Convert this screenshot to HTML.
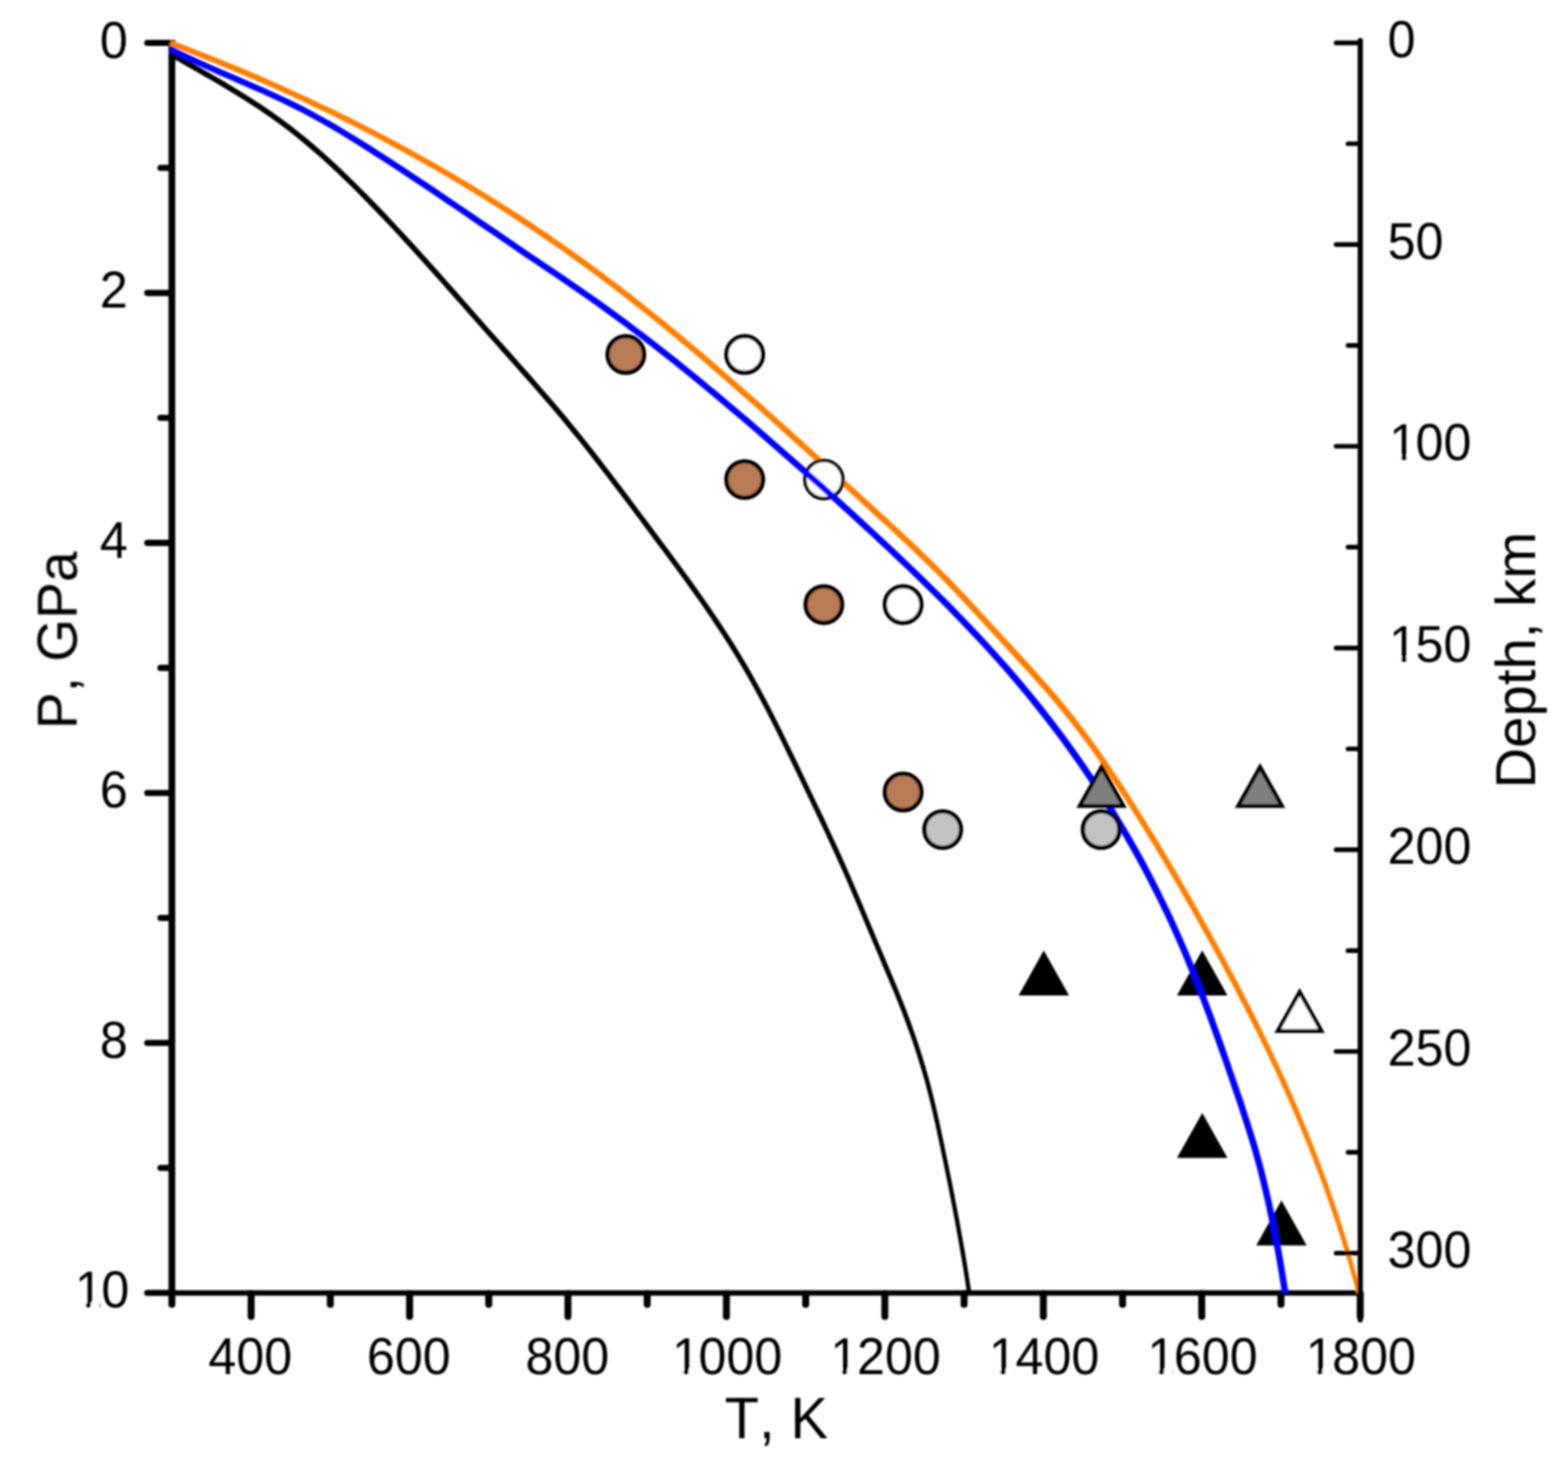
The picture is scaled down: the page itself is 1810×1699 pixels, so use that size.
<!DOCTYPE html>
<html lang="en"><head><meta charset="utf-8"><title>P-T diagram</title>
<style>html,body{margin:0;padding:0;background:#fff}body{width:1810px;height:1699px;overflow:hidden}svg{display:block}text{font-family:"Liberation Sans",Arial,Helvetica,sans-serif;fill:#000;font-kerning:none;text-rendering:geometricPrecision}.tk{font-size:58.0px}.ti{font-size:65.0px}</style>
</head><body>
<svg xmlns="http://www.w3.org/2000/svg" width="1810" height="1699" viewBox="0 0 1810 1699">
<defs><filter id="b" x="0" y="0" width="100%" height="100%" filterUnits="userSpaceOnUse"><feGaussianBlur stdDeviation="1.00"/></filter></defs>
<rect width="1810" height="1699" fill="#fff"/>
<g filter="url(#b)">
<g id="axes1">
<line x1="198.4" y1="46.0" x2="198.4" y2="1492.3" stroke="#000" stroke-width="7.8" stroke-linecap="butt"/>
<line x1="198.4" y1="1493.1" x2="198.4" y2="1505.4" stroke="#000" stroke-width="8.0" stroke-linecap="round"/>
<line x1="198.4" y1="1492.3" x2="1570.2" y2="1492.3" stroke="#000" stroke-width="6.3" stroke-linecap="butt"/>
<line x1="170.0" y1="49.5" x2="198.4" y2="49.5" stroke="#000" stroke-width="7.1" stroke-linecap="round"/>
<line x1="185.2" y1="193.8" x2="198.4" y2="193.8" stroke="#000" stroke-width="7.1" stroke-linecap="round"/>
<line x1="170.0" y1="338.1" x2="198.4" y2="338.1" stroke="#000" stroke-width="7.1" stroke-linecap="round"/>
<line x1="185.2" y1="482.3" x2="198.4" y2="482.3" stroke="#000" stroke-width="7.1" stroke-linecap="round"/>
<line x1="170.0" y1="626.6" x2="198.4" y2="626.6" stroke="#000" stroke-width="7.1" stroke-linecap="round"/>
<line x1="185.2" y1="770.9" x2="198.4" y2="770.9" stroke="#000" stroke-width="7.1" stroke-linecap="round"/>
<line x1="170.0" y1="915.2" x2="198.4" y2="915.2" stroke="#000" stroke-width="7.1" stroke-linecap="round"/>
<line x1="185.2" y1="1059.5" x2="198.4" y2="1059.5" stroke="#000" stroke-width="7.1" stroke-linecap="round"/>
<line x1="170.0" y1="1203.7" x2="198.4" y2="1203.7" stroke="#000" stroke-width="7.1" stroke-linecap="round"/>
<line x1="185.2" y1="1348.0" x2="198.4" y2="1348.0" stroke="#000" stroke-width="7.1" stroke-linecap="round"/>
<line x1="170.0" y1="1492.3" x2="198.4" y2="1492.3" stroke="#000" stroke-width="7.1" stroke-linecap="round"/>
<line x1="289.9" y1="1493.1" x2="289.9" y2="1519.6" stroke="#000" stroke-width="8.0" stroke-linecap="round"/>
<line x1="381.3" y1="1493.1" x2="381.3" y2="1505.4" stroke="#000" stroke-width="8.0" stroke-linecap="round"/>
<line x1="472.8" y1="1493.1" x2="472.8" y2="1519.6" stroke="#000" stroke-width="8.0" stroke-linecap="round"/>
<line x1="564.2" y1="1493.1" x2="564.2" y2="1505.4" stroke="#000" stroke-width="8.0" stroke-linecap="round"/>
<line x1="655.6" y1="1493.1" x2="655.6" y2="1519.6" stroke="#000" stroke-width="8.0" stroke-linecap="round"/>
<line x1="747.1" y1="1493.1" x2="747.1" y2="1505.4" stroke="#000" stroke-width="8.0" stroke-linecap="round"/>
<line x1="838.5" y1="1493.1" x2="838.5" y2="1519.6" stroke="#000" stroke-width="8.0" stroke-linecap="round"/>
<line x1="930.0" y1="1493.1" x2="930.0" y2="1505.4" stroke="#000" stroke-width="8.0" stroke-linecap="round"/>
<line x1="1021.4" y1="1493.1" x2="1021.4" y2="1519.6" stroke="#000" stroke-width="8.0" stroke-linecap="round"/>
<line x1="1112.9" y1="1493.1" x2="1112.9" y2="1505.4" stroke="#000" stroke-width="8.0" stroke-linecap="round"/>
<line x1="1204.4" y1="1493.1" x2="1204.4" y2="1519.6" stroke="#000" stroke-width="8.0" stroke-linecap="round"/>
<line x1="1295.8" y1="1493.1" x2="1295.8" y2="1505.4" stroke="#000" stroke-width="8.0" stroke-linecap="round"/>
<line x1="1387.2" y1="1493.1" x2="1387.2" y2="1519.6" stroke="#000" stroke-width="8.0" stroke-linecap="round"/>
<line x1="1478.7" y1="1493.1" x2="1478.7" y2="1505.4" stroke="#000" stroke-width="8.0" stroke-linecap="round"/>
<line x1="1570.2" y1="1493.1" x2="1570.2" y2="1519.6" stroke="#000" stroke-width="8.0" stroke-linecap="round"/>
</g>
<g id="data" fill="none" stroke-linejoin="round">
<polygon points="195.4,52.7 208.2,57.5 221.0,62.4 233.7,67.4 246.3,72.4 258.9,77.5 271.4,82.7 283.8,88.0 296.2,93.2 308.5,98.6 320.8,104.0 333.0,109.5 345.1,115.1 357.1,120.7 369.1,126.4 381.1,132.1 392.9,137.9 404.7,143.8 416.5,149.8 428.1,155.8 439.7,161.8 451.3,168.0 462.8,174.2 474.2,180.4 485.5,186.7 496.8,193.1 508.0,199.6 519.2,206.1 530.3,212.7 541.3,219.3 552.3,226.0 563.2,232.8 574.1,239.6 584.8,246.5 595.6,253.4 606.2,260.4 616.8,267.5 627.3,274.7 637.8,281.9 648.2,289.1 658.6,296.5 668.8,303.9 679.1,311.3 689.2,318.8 699.3,326.4 709.3,334.0 719.3,341.7 729.3,349.5 739.1,357.3 749.0,365.1 758.8,373.0 768.5,381.0 778.2,388.9 787.8,397.0 797.5,405.0 807.0,413.1 816.6,421.3 826.1,429.5 835.6,437.7 845.0,445.9 854.4,454.2 863.8,462.5 873.2,470.8 882.5,479.1 891.9,487.5 901.2,495.9 910.5,504.3 919.8,512.7 929.0,521.1 938.3,529.5 947.6,538.0 956.8,546.4 966.1,554.9 975.3,563.3 984.6,571.8 993.8,580.2 1003.1,588.7 1012.3,597.2 1021.5,605.6 1030.7,614.1 1039.9,622.7 1049.0,631.2 1058.0,639.9 1067.0,648.5 1075.9,657.3 1084.7,666.1 1093.4,675.1 1102.1,684.1 1110.6,693.2 1119.2,702.3 1127.7,711.5 1136.1,720.7 1144.6,730.0 1153.1,739.2 1161.5,748.5 1170.0,757.7 1178.5,766.9 1186.9,776.1 1195.3,785.4 1203.6,794.8 1211.8,804.3 1219.8,813.8 1227.8,823.5 1235.6,833.3 1243.3,843.2 1250.9,853.3 1258.4,863.5 1265.7,873.8 1272.9,884.2 1280.1,894.7 1287.1,905.3 1294.1,916.0 1301.1,926.7 1308.0,937.5 1314.8,948.4 1321.6,959.3 1328.3,970.2 1335.0,981.3 1341.6,992.3 1348.2,1003.4 1354.7,1014.6 1361.2,1025.7 1367.7,1037.0 1374.1,1048.2 1380.5,1059.5 1386.8,1070.9 1393.1,1082.3 1399.4,1093.7 1405.7,1105.1 1411.9,1116.6 1418.0,1128.1 1424.2,1139.7 1430.2,1151.3 1436.3,1162.9 1442.2,1174.7 1448.2,1186.4 1454.0,1198.2 1459.8,1210.1 1465.5,1222.1 1471.2,1234.1 1476.8,1246.2 1482.3,1258.4 1487.8,1270.6 1493.1,1282.9 1498.4,1295.3 1503.6,1307.8 1508.7,1320.4 1513.7,1333.0 1518.7,1345.8 1523.5,1358.6 1528.3,1371.6 1532.9,1384.6 1537.4,1397.7 1541.9,1411.0 1546.2,1424.4 1550.4,1437.8 1554.5,1451.4 1558.5,1465.1 1562.3,1479.0 1566.0,1492.9 1571.3,1491.6 1567.5,1477.6 1563.7,1463.7 1559.8,1449.9 1555.7,1436.2 1551.6,1422.7 1547.3,1409.2 1542.9,1395.9 1538.4,1382.7 1533.8,1369.6 1529.0,1356.6 1524.2,1343.7 1519.3,1330.8 1514.3,1318.1 1509.2,1305.5 1504.0,1292.9 1498.8,1280.5 1493.4,1268.1 1488.0,1255.8 1482.5,1243.6 1476.9,1231.4 1471.3,1219.4 1465.6,1207.4 1459.8,1195.4 1453.9,1183.5 1448.0,1171.7 1442.1,1160.0 1436.0,1148.3 1430.0,1136.6 1423.9,1125.0 1417.7,1113.5 1411.5,1101.9 1405.2,1090.5 1399.0,1079.0 1392.6,1067.6 1386.3,1056.3 1379.9,1045.0 1373.5,1033.7 1367.0,1022.4 1360.5,1011.2 1354.0,1000.0 1347.4,988.9 1340.7,977.8 1334.1,966.7 1327.3,955.7 1320.6,944.8 1313.7,933.9 1306.8,923.1 1299.9,912.3 1292.9,901.5 1285.8,890.9 1278.6,880.3 1271.4,869.8 1264.0,859.4 1256.6,849.1 1249.0,838.9 1241.2,828.9 1233.3,819.0 1225.3,809.2 1217.2,799.6 1209.0,790.1 1200.6,780.7 1192.2,771.3 1183.8,762.1 1175.3,752.8 1166.8,743.6 1158.3,734.4 1149.9,725.2 1141.4,715.9 1132.9,706.7 1124.4,697.5 1115.8,688.3 1107.2,679.2 1098.5,670.1 1089.7,661.2 1080.9,652.3 1071.9,643.5 1062.9,634.8 1053.8,626.1 1044.7,617.5 1035.5,609.0 1026.3,600.5 1017.0,592.0 1007.8,583.5 998.5,575.1 989.3,566.6 980.0,558.2 970.8,549.7 961.5,541.3 952.3,532.8 943.0,524.4 933.8,515.9 924.5,507.5 915.2,499.1 905.9,490.7 896.5,482.3 887.2,473.9 877.8,465.6 868.4,457.2 859.0,448.9 849.6,440.7 840.1,432.4 830.6,424.2 821.1,416.0 811.5,407.8 801.9,399.7 792.3,391.6 782.6,383.6 772.9,375.6 763.1,367.6 753.3,359.7 743.4,351.9 733.5,344.1 723.5,336.3 713.5,328.6 703.4,320.9 693.3,313.3 683.1,305.8 672.8,298.3 662.5,290.9 652.1,283.6 641.7,276.3 631.2,269.1 620.6,261.9 610.0,254.8 599.3,247.8 588.5,240.8 577.7,233.9 566.8,227.0 555.8,220.2 544.8,213.5 533.8,206.9 522.6,200.3 511.4,193.7 500.1,187.3 488.8,180.9 477.4,174.5 466.0,168.3 454.4,162.0 442.9,155.9 431.2,149.8 419.5,143.8 407.7,137.8 395.9,132.0 384.0,126.1 372.0,120.4 360.0,114.7 347.9,109.0 335.7,103.5 323.5,98.0 311.2,92.5 298.8,87.1 286.4,81.8 273.9,76.6 261.4,71.4 248.8,66.3 236.1,61.2 223.4,56.3 210.6,51.3 197.7,46.5" fill="#FF7F00" stroke="none"/>
<polygon points="197.2,66.0 206.6,71.3 216.0,76.7 225.4,82.1 234.8,87.4 244.2,92.8 253.5,98.3 262.7,103.8 271.9,109.4 281.0,115.0 289.9,120.7 298.8,126.6 307.6,132.5 316.2,138.6 324.7,144.8 333.1,151.1 341.3,157.6 349.4,164.2 357.4,170.9 365.3,177.7 373.1,184.6 380.8,191.7 388.4,198.8 395.9,206.0 403.4,213.2 410.8,220.6 418.1,228.0 425.4,235.4 432.7,242.9 439.9,250.4 447.1,258.0 454.2,265.6 461.3,273.3 468.4,280.9 475.5,288.7 482.5,296.4 489.5,304.2 496.5,311.9 503.4,319.7 510.4,327.6 517.3,335.4 524.2,343.2 531.2,351.1 538.1,358.9 545.0,366.8 551.9,374.6 558.9,382.5 565.8,390.3 572.8,398.1 579.7,406.0 586.7,413.8 593.6,421.6 600.6,429.4 607.5,437.2 614.4,445.1 621.3,453.0 628.2,460.9 635.0,468.8 641.8,476.8 648.5,484.8 655.2,492.9 661.8,501.0 668.4,509.1 674.9,517.3 681.4,525.6 687.9,533.9 694.4,542.2 700.8,550.5 707.2,558.9 713.5,567.3 719.9,575.7 726.2,584.1 732.5,592.6 738.9,601.0 745.2,609.5 751.5,617.9 757.8,626.4 764.1,634.8 770.4,643.3 776.7,651.8 783.0,660.3 789.2,668.8 795.4,677.4 801.5,686.0 807.7,694.6 813.7,703.3 819.7,712.1 825.6,720.9 831.5,729.8 837.3,738.7 843.0,747.7 848.6,756.8 854.2,766.0 859.6,775.3 865.0,784.7 870.2,794.1 875.4,803.7 880.5,813.3 885.6,823.0 890.5,832.8 895.5,842.6 900.4,852.5 905.2,862.4 910.0,872.4 914.8,882.3 919.6,892.3 924.4,902.3 929.2,912.3 934.0,922.3 938.7,932.3 943.5,942.3 948.3,952.3 953.0,962.3 957.7,972.4 962.3,982.5 966.9,992.7 971.5,1002.8 976.0,1013.1 980.5,1023.4 984.9,1033.7 989.3,1044.1 993.7,1054.5 998.1,1064.9 1002.4,1075.3 1006.8,1085.7 1011.2,1096.1 1015.5,1106.5 1019.9,1116.9 1024.3,1127.3 1028.7,1137.7 1033.0,1148.1 1037.2,1158.6 1041.4,1169.2 1045.4,1179.9 1049.4,1190.7 1053.2,1201.6 1056.9,1212.7 1060.4,1223.9 1063.9,1235.2 1067.2,1246.6 1070.3,1258.2 1073.3,1270.0 1076.1,1281.9 1078.9,1293.9 1081.5,1306.1 1084.1,1318.2 1086.7,1330.4 1089.2,1342.7 1091.7,1354.9 1094.2,1367.2 1096.6,1379.6 1099.0,1391.9 1101.4,1404.3 1103.7,1416.8 1105.9,1429.3 1108.1,1441.8 1110.3,1454.5 1112.4,1467.1 1114.4,1479.9 1116.3,1492.7 1121.3,1491.9 1119.3,1479.1 1117.3,1466.3 1115.2,1453.6 1113.1,1441.0 1110.8,1428.4 1108.6,1415.9 1106.3,1403.4 1103.9,1391.0 1101.5,1378.6 1099.1,1366.2 1096.6,1353.9 1094.1,1341.7 1091.6,1329.4 1089.0,1317.2 1086.4,1305.0 1083.8,1292.8 1081.1,1280.8 1078.2,1268.8 1075.3,1256.9 1072.2,1245.2 1068.9,1233.7 1065.5,1222.3 1062.0,1211.0 1058.3,1199.9 1054.5,1188.9 1050.6,1178.0 1046.6,1167.2 1042.4,1156.6 1038.2,1146.0 1033.9,1135.5 1029.5,1125.1 1025.2,1114.7 1020.8,1104.3 1016.4,1093.9 1012.0,1083.5 1007.7,1073.1 1003.3,1062.7 998.9,1052.3 994.6,1041.9 990.2,1031.5 985.7,1021.1 981.3,1010.8 976.7,1000.5 972.2,990.3 967.6,980.1 962.9,970.0 958.2,959.9 953.5,949.8 948.8,939.8 944.0,929.8 939.2,919.8 934.4,909.8 929.6,899.8 924.9,889.8 920.1,879.8 915.3,869.8 910.4,859.9 905.6,849.9 900.7,840.0 895.8,830.2 890.8,820.4 885.7,810.6 880.6,800.9 875.4,791.3 870.1,781.8 864.8,772.3 859.3,763.0 853.7,753.7 848.1,744.5 842.4,735.5 836.5,726.5 830.7,717.5 824.7,708.7 818.7,699.9 812.6,691.2 806.5,682.5 800.3,673.8 794.1,665.2 787.9,656.7 781.6,648.2 775.4,639.7 769.0,631.2 762.7,622.7 756.4,614.3 750.1,605.8 743.8,597.4 737.4,588.9 731.1,580.5 724.8,572.0 718.4,563.6 712.0,555.2 705.6,546.8 699.2,538.4 692.8,530.1 686.3,521.8 679.8,513.5 673.2,505.3 666.6,497.1 660.0,488.9 653.3,480.8 646.5,472.8 639.7,464.8 632.9,456.8 626.0,448.9 619.1,441.0 612.2,433.1 605.2,425.3 598.3,417.5 591.3,409.6 584.4,401.8 577.4,394.0 570.5,386.2 563.5,378.4 556.6,370.5 549.7,362.7 542.8,354.8 535.8,347.0 528.9,339.1 522.0,331.3 515.0,323.4 508.1,315.6 501.1,307.8 494.1,300.0 487.1,292.2 480.1,284.5 473.0,276.7 465.9,269.0 458.8,261.4 451.6,253.7 444.4,246.1 437.2,238.6 429.9,231.1 422.6,223.6 415.2,216.2 407.7,208.8 400.2,201.5 392.7,194.2 385.0,187.1 377.3,180.0 369.4,173.0 361.5,166.1 353.4,159.3 345.2,152.7 336.9,146.1 328.5,139.7 319.9,133.4 311.2,127.3 302.3,121.3 293.4,115.4 284.3,109.7 275.2,104.0 266.0,98.4 256.7,92.8 247.4,87.4 238.0,82.0 228.6,76.6 219.2,71.2 209.7,65.8 200.3,60.5" fill="#000" stroke="none"/>
<circle cx="722.4" cy="409.2" r="21.1" fill="#B97A57" stroke="#000" stroke-width="5.0"/>
<circle cx="859.6" cy="553.5" r="21.1" fill="#B97A57" stroke="#000" stroke-width="5.0"/>
<circle cx="951.0" cy="697.8" r="21.1" fill="#B97A57" stroke="#000" stroke-width="5.0"/>
<circle cx="1042.5" cy="914.2" r="21.1" fill="#B97A57" stroke="#000" stroke-width="5.0"/>
<circle cx="859.6" cy="409.2" r="21.1" fill="#fff" stroke="#000" stroke-width="5.0"/>
<circle cx="1042.5" cy="697.8" r="21.1" fill="#fff" stroke="#000" stroke-width="5.0"/>
<circle cx="951.0" cy="553.5" r="21.9" fill="#fff" stroke="#000" stroke-width="4.0"/>
<polygon points="1204.9,1101.7 1179.7,1146.7 1230.1,1146.7" fill="#000" stroke="#000" stroke-width="4.6" stroke-linejoin="miter" stroke-miterlimit="10"/>
<polygon points="1387.8,1101.7 1362.5,1146.7 1413.0,1146.7" fill="#000" stroke="#000" stroke-width="4.6" stroke-linejoin="miter" stroke-miterlimit="10"/>
<polygon points="1387.8,1289.3 1362.5,1334.3 1413.0,1334.3" fill="#000" stroke="#000" stroke-width="4.6" stroke-linejoin="miter" stroke-miterlimit="10"/>
<polygon points="1479.2,1390.3 1454.0,1435.3 1504.4,1435.3" fill="#000" stroke="#000" stroke-width="4.6" stroke-linejoin="miter" stroke-miterlimit="10"/>
<polygon points="195.0,59.5 206.5,65.3 218.1,70.9 229.8,76.3 241.7,81.6 253.6,86.9 265.5,92.0 277.5,97.2 289.4,102.4 301.3,107.6 313.1,112.9 324.7,118.3 336.2,123.9 347.5,129.6 358.7,135.5 369.7,141.6 380.5,147.8 391.3,154.1 401.9,160.5 412.4,167.1 422.9,173.7 433.4,180.4 443.7,187.1 454.1,193.8 464.4,200.6 474.7,207.4 485.0,214.3 495.2,221.1 505.5,228.0 515.7,234.9 525.9,241.8 536.1,248.8 546.2,255.7 556.4,262.7 566.6,269.6 576.8,276.5 587.0,283.5 597.1,290.4 607.3,297.4 617.6,304.3 627.8,311.2 638.0,318.1 648.2,325.0 658.4,332.0 668.5,338.9 678.6,345.9 688.6,353.0 698.5,360.2 708.4,367.4 718.2,374.6 728.0,381.9 737.8,389.3 747.4,396.7 757.0,404.2 766.6,411.7 776.2,419.3 785.7,426.9 795.1,434.6 804.5,442.2 813.9,450.0 823.2,457.7 832.5,465.5 841.8,473.4 851.1,481.2 860.3,489.1 869.5,497.0 878.7,505.0 887.8,512.9 897.0,520.9 906.1,528.9 915.2,536.9 924.3,544.9 933.4,553.0 942.4,561.0 951.4,569.1 960.4,577.2 969.4,585.4 978.4,593.5 987.3,601.7 996.2,609.9 1005.1,618.1 1014.0,626.4 1022.8,634.6 1031.6,642.9 1040.4,651.3 1049.1,659.6 1057.8,668.1 1066.4,676.5 1075.1,685.0 1083.6,693.5 1092.1,702.1 1100.6,710.7 1109.0,719.4 1117.3,728.2 1125.6,737.0 1133.8,745.8 1142.0,754.8 1150.1,763.8 1158.1,772.8 1166.0,782.0 1173.8,791.2 1181.6,800.5 1189.3,809.9 1196.9,819.4 1204.4,829.0 1211.8,838.6 1219.2,848.3 1226.4,858.1 1233.6,868.0 1240.7,878.0 1247.7,888.1 1254.6,898.3 1261.4,908.5 1268.1,918.8 1274.8,929.3 1281.3,939.8 1287.8,950.4 1294.2,961.1 1300.4,971.9 1306.6,982.8 1312.7,993.8 1318.7,1004.9 1324.5,1016.1 1330.3,1027.4 1336.0,1038.8 1341.6,1050.3 1347.1,1061.8 1352.4,1073.5 1357.7,1085.3 1362.9,1097.3 1367.9,1109.3 1372.9,1121.4 1377.8,1133.6 1382.6,1145.9 1387.3,1158.2 1392.0,1170.7 1396.6,1183.2 1401.1,1195.7 1405.6,1208.4 1410.1,1221.0 1414.5,1233.7 1418.9,1246.4 1423.2,1259.2 1427.6,1271.9 1431.8,1284.8 1436.0,1297.7 1440.1,1310.7 1444.1,1323.8 1447.9,1337.0 1451.5,1350.5 1454.9,1364.1 1458.2,1377.9 1461.4,1391.8 1464.3,1405.9 1467.2,1420.1 1469.9,1434.5 1472.6,1448.9 1475.1,1463.5 1477.5,1478.1 1479.9,1492.9 1487.3,1491.7 1484.9,1476.9 1482.5,1462.2 1480.0,1447.6 1477.3,1433.1 1474.6,1418.7 1471.7,1404.4 1468.7,1390.2 1465.5,1376.2 1462.2,1362.3 1458.8,1348.6 1455.1,1335.0 1451.3,1321.6 1447.3,1308.4 1443.2,1295.4 1439.0,1282.4 1434.8,1269.5 1430.4,1256.7 1426.0,1244.0 1421.6,1231.2 1417.2,1218.5 1412.8,1205.8 1408.3,1193.2 1403.7,1180.6 1399.1,1168.0 1394.4,1155.5 1389.7,1143.1 1384.9,1130.8 1380.0,1118.5 1375.0,1106.3 1369.9,1094.3 1364.7,1082.3 1359.4,1070.4 1354.0,1058.6 1348.5,1046.9 1342.9,1035.4 1337.2,1023.9 1331.4,1012.5 1325.5,1001.3 1319.5,990.1 1313.3,979.0 1307.1,968.1 1300.8,957.2 1294.4,946.4 1287.9,935.7 1281.4,925.1 1274.7,914.6 1267.9,904.2 1261.0,893.9 1254.1,883.7 1247.0,873.5 1239.9,863.5 1232.7,853.6 1225.4,843.7 1218.0,833.9 1210.5,824.2 1202.9,814.6 1195.2,805.1 1187.5,795.7 1179.7,786.3 1171.8,777.0 1163.8,767.8 1155.7,758.7 1147.6,749.7 1139.4,740.7 1131.1,731.8 1122.8,723.0 1114.4,714.2 1106.0,705.5 1097.5,696.8 1088.9,688.2 1080.3,679.7 1071.7,671.2 1063.0,662.7 1054.2,654.3 1045.5,645.9 1036.7,637.6 1027.9,629.2 1019.0,620.9 1010.1,612.7 1001.2,604.5 992.3,596.2 983.3,588.1 974.4,579.9 965.4,571.8 956.3,563.6 947.3,555.5 938.2,547.5 929.2,539.4 920.1,531.4 910.9,523.4 901.8,515.4 892.6,507.4 883.5,499.4 874.3,491.5 865.1,483.6 855.8,475.7 846.5,467.8 837.2,459.9 827.9,452.1 818.5,444.4 809.1,436.6 799.7,428.9 790.2,421.2 780.7,413.6 771.1,406.0 761.5,398.5 751.9,391.0 742.2,383.5 732.4,376.2 722.6,368.8 712.7,361.5 702.8,354.3 692.8,347.1 682.7,340.0 672.6,333.0 662.4,326.0 652.3,319.1 642.0,312.1 631.8,305.2 621.6,298.3 611.4,291.4 601.2,284.5 591.0,277.5 580.8,270.6 570.7,263.6 560.5,256.7 550.3,249.7 540.1,242.8 529.9,235.9 519.7,228.9 509.5,222.0 499.3,215.1 489.0,208.3 478.7,201.4 468.4,194.6 458.0,187.8 447.7,181.0 437.2,174.3 426.8,167.6 416.3,161.0 405.6,154.4 394.9,148.0 384.1,141.6 373.1,135.4 362.0,129.3 350.8,123.3 339.4,117.5 327.7,111.9 316.0,106.5 304.2,101.2 292.3,95.9 280.3,90.7 268.3,85.6 256.4,80.4 244.5,75.2 232.8,69.9 221.1,64.5 209.6,58.9 198.2,53.2" fill="#0000FF" stroke="none"/>
<circle cx="1088.2" cy="957.5" r="21.1" fill="#C3C3C3" stroke="#000" stroke-width="5.0"/>
<circle cx="1271.1" cy="957.5" r="21.1" fill="#C3C3C3" stroke="#000" stroke-width="5.0"/>
<polygon points="1271.6,885.3 1246.4,930.3 1296.8,930.3" fill="#7F7F7F" stroke="#000" stroke-width="4.6" stroke-linejoin="miter" stroke-miterlimit="10"/>
<polygon points="1454.5,885.3 1429.3,930.3 1479.7,930.3" fill="#7F7F7F" stroke="#000" stroke-width="4.6" stroke-linejoin="miter" stroke-miterlimit="10"/>
<polygon points="1500.2,1145.0 1475.0,1190.0 1525.4,1190.0" fill="#fff" stroke="#000" stroke-width="4.6" stroke-linejoin="miter" stroke-miterlimit="10"/>
</g>
<g id="axes2">
<line x1="1570.2" y1="46.8" x2="1570.2" y2="1523.6" stroke="#000" stroke-width="6.0" stroke-linecap="round"/>
<line x1="1542.3" y1="49.5" x2="1570.2" y2="49.5" stroke="#000" stroke-width="5.4" stroke-linecap="round"/>
<line x1="1556.1" y1="165.9" x2="1570.2" y2="165.9" stroke="#000" stroke-width="5.4" stroke-linecap="round"/>
<line x1="1542.3" y1="282.3" x2="1570.2" y2="282.3" stroke="#000" stroke-width="5.4" stroke-linecap="round"/>
<line x1="1556.1" y1="398.7" x2="1570.2" y2="398.7" stroke="#000" stroke-width="5.4" stroke-linecap="round"/>
<line x1="1542.3" y1="515.1" x2="1570.2" y2="515.1" stroke="#000" stroke-width="5.4" stroke-linecap="round"/>
<line x1="1556.1" y1="631.5" x2="1570.2" y2="631.5" stroke="#000" stroke-width="5.4" stroke-linecap="round"/>
<line x1="1542.3" y1="748.0" x2="1570.2" y2="748.0" stroke="#000" stroke-width="5.4" stroke-linecap="round"/>
<line x1="1556.1" y1="864.4" x2="1570.2" y2="864.4" stroke="#000" stroke-width="5.4" stroke-linecap="round"/>
<line x1="1542.3" y1="980.8" x2="1570.2" y2="980.8" stroke="#000" stroke-width="5.4" stroke-linecap="round"/>
<line x1="1556.1" y1="1097.2" x2="1570.2" y2="1097.2" stroke="#000" stroke-width="5.4" stroke-linecap="round"/>
<line x1="1542.3" y1="1213.6" x2="1570.2" y2="1213.6" stroke="#000" stroke-width="5.4" stroke-linecap="round"/>
<line x1="1556.1" y1="1330.0" x2="1570.2" y2="1330.0" stroke="#000" stroke-width="5.4" stroke-linecap="round"/>
<line x1="1542.3" y1="1446.4" x2="1570.2" y2="1446.4" stroke="#000" stroke-width="5.4" stroke-linecap="round"/>
</g>
<g id="labels">
<text class="tk" transform="translate(147.5 66.5) scale(1.000 1.035)" text-anchor="end">0</text>
<text class="tk" transform="translate(147.5 355.1) scale(1.000 1.035)" text-anchor="end">2</text>
<text class="tk" transform="translate(147.5 643.6) scale(1.000 1.035)" text-anchor="end">4</text>
<text class="tk" transform="translate(147.5 932.2) scale(1.000 1.035)" text-anchor="end">6</text>
<text class="tk" transform="translate(147.5 1220.7) scale(1.000 1.035)" text-anchor="end">8</text>
<text class="tk" transform="translate(147.5 1509.3) scale(1.000 1.035)" text-anchor="end"><tspan dx="1.74">1</tspan><tspan dx="-1.74">0</tspan></text><g transform="translate(147.5 1509.3) scale(1.000 1.035)" fill="#fff"><rect x="-60.45" y="-5.80" width="11.89" height="7.25"/><rect x="-42.76" y="-5.80" width="10.15" height="7.25"/></g>
<text class="tk" transform="translate(289.0 1586.4) scale(1.000 1.035)" text-anchor="middle">400</text>
<text class="tk" transform="translate(471.9 1586.4) scale(1.000 1.035)" text-anchor="middle">600</text>
<text class="tk" transform="translate(654.8 1586.4) scale(1.000 1.035)" text-anchor="middle">800</text>
<text class="tk" transform="translate(837.6 1586.4) scale(1.000 1.035)" text-anchor="middle"><tspan dx="1.74">1</tspan><tspan dx="-1.74">000</tspan></text><g transform="translate(837.6 1586.4) scale(1.000 1.035)" fill="#fff"><rect x="-60.45" y="-5.80" width="11.89" height="7.25"/><rect x="-42.76" y="-5.80" width="10.15" height="7.25"/></g>
<text class="tk" transform="translate(1020.5 1586.4) scale(1.000 1.035)" text-anchor="middle"><tspan dx="1.74">1</tspan><tspan dx="-1.74">200</tspan></text><g transform="translate(1020.5 1586.4) scale(1.000 1.035)" fill="#fff"><rect x="-60.45" y="-5.80" width="11.89" height="7.25"/><rect x="-42.76" y="-5.80" width="10.15" height="7.25"/></g>
<text class="tk" transform="translate(1203.5 1586.4) scale(1.000 1.035)" text-anchor="middle"><tspan dx="1.74">1</tspan><tspan dx="-1.74">400</tspan></text><g transform="translate(1203.5 1586.4) scale(1.000 1.035)" fill="#fff"><rect x="-60.45" y="-5.80" width="11.89" height="7.25"/><rect x="-42.76" y="-5.80" width="10.15" height="7.25"/></g>
<text class="tk" transform="translate(1386.3 1586.4) scale(1.000 1.035)" text-anchor="middle"><tspan dx="1.74">1</tspan><tspan dx="-1.74">600</tspan></text><g transform="translate(1386.3 1586.4) scale(1.000 1.035)" fill="#fff"><rect x="-60.45" y="-5.80" width="11.89" height="7.25"/><rect x="-42.76" y="-5.80" width="10.15" height="7.25"/></g>
<text class="tk" transform="translate(1569.2 1586.4) scale(1.000 1.035)" text-anchor="middle"><tspan dx="1.74">1</tspan><tspan dx="-1.74">800</tspan></text><g transform="translate(1569.2 1586.4) scale(1.000 1.035)" fill="#fff"><rect x="-60.45" y="-5.80" width="11.89" height="7.25"/><rect x="-42.76" y="-5.80" width="10.15" height="7.25"/></g>
<text class="tk" transform="translate(1601.8 65.8) scale(1.000 1.035)" text-anchor="start">0</text>
<text class="tk" transform="translate(1601.8 298.6) scale(1.000 1.035)" text-anchor="start">50</text>
<text class="tk" transform="translate(1601.8 531.4) scale(1.000 1.035)" text-anchor="start"><tspan dx="1.74">1</tspan><tspan dx="-1.74">00</tspan></text><g transform="translate(1601.8 531.4) scale(1.000 1.035)" fill="#fff"><rect x="4.06" y="-5.80" width="11.89" height="7.25"/><rect x="21.75" y="-5.80" width="10.15" height="7.25"/></g>
<text class="tk" transform="translate(1601.8 764.2) scale(1.000 1.035)" text-anchor="start"><tspan dx="1.74">1</tspan><tspan dx="-1.74">50</tspan></text><g transform="translate(1601.8 764.2) scale(1.000 1.035)" fill="#fff"><rect x="4.06" y="-5.80" width="11.89" height="7.25"/><rect x="21.75" y="-5.80" width="10.15" height="7.25"/></g>
<text class="tk" transform="translate(1601.8 997.1) scale(1.000 1.035)" text-anchor="start">200</text>
<text class="tk" transform="translate(1601.8 1229.9) scale(1.000 1.035)" text-anchor="start">250</text>
<text class="tk" transform="translate(1601.8 1462.7) scale(1.000 1.035)" text-anchor="start">300</text>
<text class="ti" transform="translate(896.2 1660.2) scale(1.000 1.043)" text-anchor="middle">T, K</text>
<text class="ti" transform="translate(88.5 739.0) rotate(-90) scale(0.979 1.000)" text-anchor="middle">P, GPa</text>
<text class="ti" transform="translate(1772.0 762.0) rotate(-90) scale(1.000 1.000)" text-anchor="middle">Depth, km</text>
</g>
</g>
</svg>
</body></html>
